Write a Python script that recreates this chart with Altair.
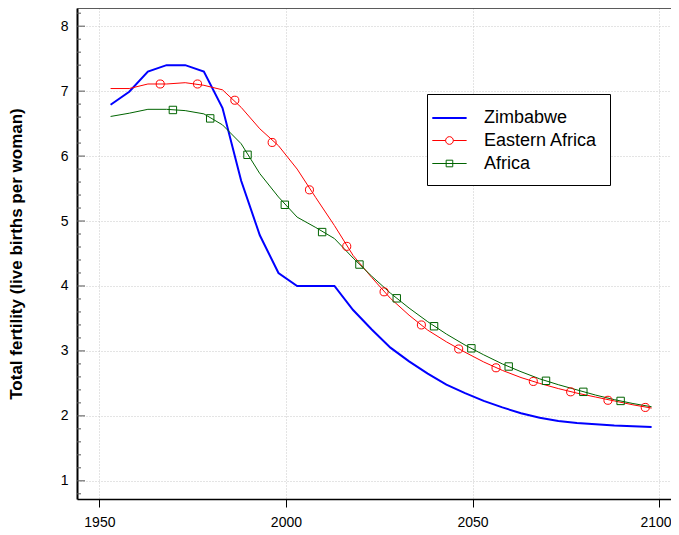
import altair as alt
import pandas as pd

# ---------------- data ----------------
series_names = ["Zimbabwe", "Eastern Africa", "Africa"]
series_colors = ["#0000ff", "#ff0000", "#006400"]
series_widths = [2, 1, 1]
legend_symbols = [
    "M-1.7,0L1.42,0",
    "M-1.7,0L-0.49,0M0.21,0L1.42,0M-0.49,0A0.35,0.35,0,1,1,0.21,0A0.35,0.35,0,1,1,-0.49,0",
    "M-1.7,0L1.42,0M-0.44,-0.3L0.16,-0.3L0.16,0.3L-0.44,0.3Z",
]

years = [1953, 1958, 1963, 1968, 1973, 1978, 1983, 1988, 1993, 1998,
         2003, 2008, 2013, 2018, 2023, 2028, 2033, 2038, 2043, 2048,
         2053, 2058, 2063, 2068, 2073, 2078, 2083, 2088, 2093, 2098]
zimbabwe = [6.79, 6.99, 7.30, 7.40, 7.40, 7.30, 6.74, 5.62, 4.78, 4.20,
            4.00, 4.00, 4.00, 3.63, 3.33, 3.05, 2.84, 2.65, 2.48, 2.35,
            2.23, 2.13, 2.04, 1.97, 1.92, 1.89, 1.87, 1.85, 1.84, 1.83]
eastern_africa = [7.04, 7.04, 7.11, 7.11, 7.13, 7.09, 7.02, 6.75, 6.42, 6.16,
                  5.80, 5.36, 4.93, 4.47, 4.13, 3.81, 3.55, 3.32, 3.14, 2.98,
                  2.83, 2.70, 2.59, 2.50, 2.42, 2.35, 2.29, 2.23, 2.17, 2.12]
africa = [6.61, 6.66, 6.72, 6.72, 6.70, 6.65, 6.48, 6.19, 5.73, 5.37,
          5.06, 4.90, 4.73, 4.43, 4.15, 3.89, 3.66, 3.45, 3.26, 3.09,
          2.94, 2.80, 2.68, 2.57, 2.48, 2.40, 2.32, 2.25, 2.19, 2.14]

ea_marker_years = [1966.3, 1976.3, 1986.3, 1996.3, 2006.3, 2016.3, 2026.3,
                   2036.3, 2046.3, 2056.3, 2066.3, 2076.3, 2086.3, 2096.3]
ea_marker_values = [7.11, 7.11, 6.86, 6.21, 5.48, 4.61, 3.91,
                    3.40, 3.03, 2.74, 2.53, 2.37, 2.24, 2.13]
af_marker_years = [1969.7, 1979.7, 1989.7, 1999.7, 2009.7, 2019.7, 2029.7,
                   2039.7, 2049.7, 2059.7, 2069.7, 2079.7, 2089.7]
af_marker_values = [6.71, 6.58, 6.02, 5.25, 4.83, 4.33, 3.81,
                    3.38, 3.04, 2.76, 2.54, 2.37, 2.23]

x_ticks = [1950, 2000, 2050, 2100]
y_ticks = [1, 2, 3, 4, 5, 6, 7, 8]
y_minor_ticks = [0.8, 1.2, 1.4, 1.6, 1.8, 2.2, 2.4, 2.6, 2.8, 3.2, 3.4, 3.6, 3.8,
                 4.2, 4.4, 4.6, 4.8, 5.2, 5.4, 5.6, 5.8, 6.2, 6.4, 6.6, 6.8,
                 7.2, 7.4, 7.6, 7.8, 8.2]
x_domain = [1944, 2103.2]
y_domain = [0.72, 8.28]
y_title = "Total fertility (live births per woman)"

# ---------------- tables ----------------
lines_df = pd.DataFrame({
    "year": years * 3,
    "value": zimbabwe + eastern_africa + africa,
    "series": [series_names[0]] * len(years) + [series_names[1]] * len(years) + [series_names[2]] * len(years),
})
ea_df = pd.DataFrame({"year": ea_marker_years, "value": ea_marker_values})
af_df = pd.DataFrame({"year": af_marker_years, "value": af_marker_values})
major_df = pd.DataFrame({"t": y_ticks})
minor_df = pd.DataFrame({"t": y_minor_ticks})
legend_df = pd.DataFrame({"series": series_names})

xs = alt.Scale(domain=x_domain, nice=False, zero=False)
ys = alt.Scale(domain=y_domain, nice=False, zero=False)
color_scale = alt.Scale(domain=series_names, range=series_colors)
shape_scale = alt.Scale(domain=series_names, range=legend_symbols)
width_scale = alt.Scale(type="ordinal", domain=series_names, range=series_widths)

grid_color = "#c8c8c8"
grid_dash = [1, 2]

x_axis = alt.Axis(values=x_ticks, format="d", title=None, grid=True,
                  gridColor=grid_color, gridDash=grid_dash, gridWidth=1,
                  tickSize=8, tickColor="black", tickWidth=1,
                  labelFontSize=14, labelColor="black", labelPadding=8,
                  labelFlush=14, labelFlushOffset=12, labelOverlap=False,
                  domainColor="black", domainWidth=1.5)
y_axis = alt.Axis(values=y_ticks, title=y_title, grid=True,
                  gridColor=grid_color, gridDash=grid_dash, gridWidth=1,
                  ticks=False, labelFontSize=14, labelColor="black", labelPadding=9,
                  labelFlush=False, labelOverlap=False,
                  domainColor="black", domainWidth=2,
                  titleFontSize=17, titleFontWeight="bold", titleColor="black",
                  titleX=-52)

legend = alt.Legend(title=None, orient="none", legendX=350, legendY=86,
                    direction="vertical", fillColor="white", strokeColor="black",
                    padding=12, labelFontSize=18, labelColor="black",
                    labelOffset=21, rowPadding=2, symbolSize=484,
                    symbolStrokeWidth=1.5)

x_enc = alt.X("year:Q", scale=xs, axis=x_axis)
y_enc = alt.Y("value:Q", scale=ys, axis=y_axis)


def series_line(i):
    return alt.Chart(lines_df).transform_filter(
        alt.datum.series == series_names[i]
    ).mark_line(strokeWidth=series_widths[i], color=series_colors[i]).encode(x=x_enc, y=y_enc)


zim_line = series_line(0)
ea_line = series_line(1)
af_line = series_line(2)

ea_points = alt.Chart(ea_df).mark_point(shape="circle", filled=False, size=65,
                                         strokeWidth=1, color=series_colors[1], opacity=1).encode(
    x=x_enc, y=y_enc,
)
af_points = alt.Chart(af_df).mark_point(shape="square", filled=False, size=55,
                                         strokeWidth=1, color=series_colors[2], opacity=1).encode(
    x=x_enc, y=y_enc,
)

major_ticks = alt.Chart(major_df).mark_rule(color="#555555", strokeWidth=1).encode(
    y=alt.Y("t:Q", scale=ys, axis=y_axis),
    x=alt.value(0),
    x2=alt.value(8),
)
minor_ticks = alt.Chart(minor_df).mark_rule(color="#555555", strokeWidth=1).encode(
    y=alt.Y("t:Q", scale=ys, axis=y_axis),
    x=alt.value(0),
    x2=alt.value(4),
)
top_border = alt.Chart(legend_df).mark_rule(color="#444444", strokeWidth=1).encode(
    y=alt.Y(datum=y_domain[1], scale=ys, axis=y_axis),
)

legend_layer = alt.Chart(legend_df).mark_point(filled=False, opacity=1).encode(
    x=x_enc, y=y_enc,
    color=alt.Color("series:N", scale=color_scale, legend=legend),
    shape=alt.Shape("series:N", scale=shape_scale, legend=legend),
    strokeWidth=alt.StrokeWidth("series:N", scale=width_scale, legend=legend),
).transform_calculate(
    year="1800", value="0"
).transform_filter("datum.value > 100")

chart = alt.layer(
    zim_line, ea_line, af_line, ea_points, af_points, major_ticks, minor_ticks,
    top_border, legend_layer
).properties(
    width=594,
    height=491,
    autosize=alt.AutoSizeParams(type="none"),
    padding={"left": 69, "top": 0, "right": 0, "bottom": 36},
).configure(
    font="Liberation Sans",
).configure_view(
    strokeWidth=0,
)

chart.save("out.html", embed_options={"renderer": "svg", "actions": False})
